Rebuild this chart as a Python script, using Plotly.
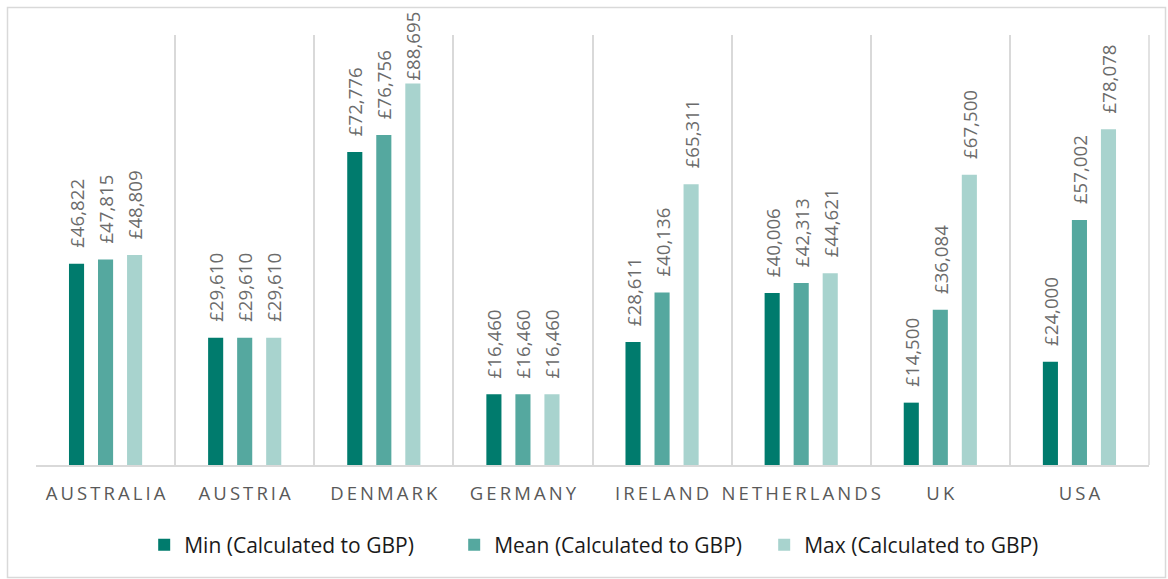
import plotly.graph_objects as go

countries = ["AUSTRALIA", "AUSTRIA", "DENMARK", "GERMANY", "IRELAND", "NETHERLANDS", "UK", "USA"]
min_vals = [46822, 29610, 72776, 16460, 28611, 40006, 14500, 24000]
mean_vals = [47815, 29610, 76756, 16460, 40136, 42313, 36084, 57002]
max_vals = [48809, 29610, 88695, 16460, 65311, 44621, 67500, 78078]
series_names = ["Min (Calculated to GBP)", "Mean (Calculated to GBP)", "Max (Calculated to GBP)"]
colors = ["#007B6D", "#55A89F", "#A8D3CE"]

def spaced(s):
    return "\u2009".join(list(s))

tick_text = [spaced(c) for c in countries]

Y_MAX = 100000
PAD = "\u00a0\u00a0\u2009"

def templates(vals):
    # labels that would run off the chart top are nudged down onto the bar (as Excel does)
    return [("" if v > 0.85 * Y_MAX else PAD) + "£%{y:,}" for v in vals]

fig = go.Figure()
for name, vals, col in zip(series_names, [min_vals, mean_vals, max_vals], colors):
    fig.add_trace(go.Bar(
        x=countries, y=vals, name=name,
        marker=dict(color=col, line=dict(width=0)),
        texttemplate=templates(vals), textposition="outside", textangle=-90,
        textfont=dict(family="Open Sans", size=18.7, color="#6b6b6b"),
        constraintext="none", cliponaxis=False,
    ))

W, H = 1168, 579
l, r, t, b = 36, 19, 35, 114
pw, ph = W - l - r, H - t - b

def px_x(px):
    return (px - l) / pw

def px_y(py):
    return (H - b - py) / ph

fig.update_layout(
    width=W, height=H,
    margin=dict(l=l, r=r, t=t, b=b, autoexpand=False),
    paper_bgcolor="white", plot_bgcolor="white",
    barmode="group", bargap=0.374, bargroupgap=0.48,
    showlegend=True,
    legend=dict(orientation="h", x=0.515, xanchor="center", y=px_y(545), yanchor="middle",
                font=dict(family="Open Sans", size=21, color="#1a1a1a"),
                itemwidth=30, traceorder="normal", entrywidth=265),
    xaxis=dict(tickmode="array", tickvals=countries, ticktext=tick_text, tickangle=0,
               automargin=False,
               tickfont=dict(family="Open Sans", size=18.5, color="#595959"),
               showgrid=True, gridcolor="#d9d9d9", gridwidth=1.5, tickson="boundaries",
               showline=True, linecolor="#d9d9d9", linewidth=1.5, ticks="",
               ticklabelstandoff=11, mirror=False),
    yaxis=dict(range=[0, Y_MAX], showgrid=False, showticklabels=False, zeroline=False,
               ticks="", showline=False, automargin=False),
    shapes=[dict(type="rect", xref="paper", yref="paper",
                 x0=px_x(7.5), x1=px_x(1165.5), y0=px_y(577.5), y1=px_y(7.5),
                 line=dict(color="#d9d9d9", width=1.5), fillcolor="rgba(0,0,0,0)", layer="below"),
            dict(type="line", xref="paper", yref="paper", x0=1, x1=1, y0=0, y1=1,
                 line=dict(color="#d9d9d9", width=1.5))],
)

fig.write_html("out.html")
